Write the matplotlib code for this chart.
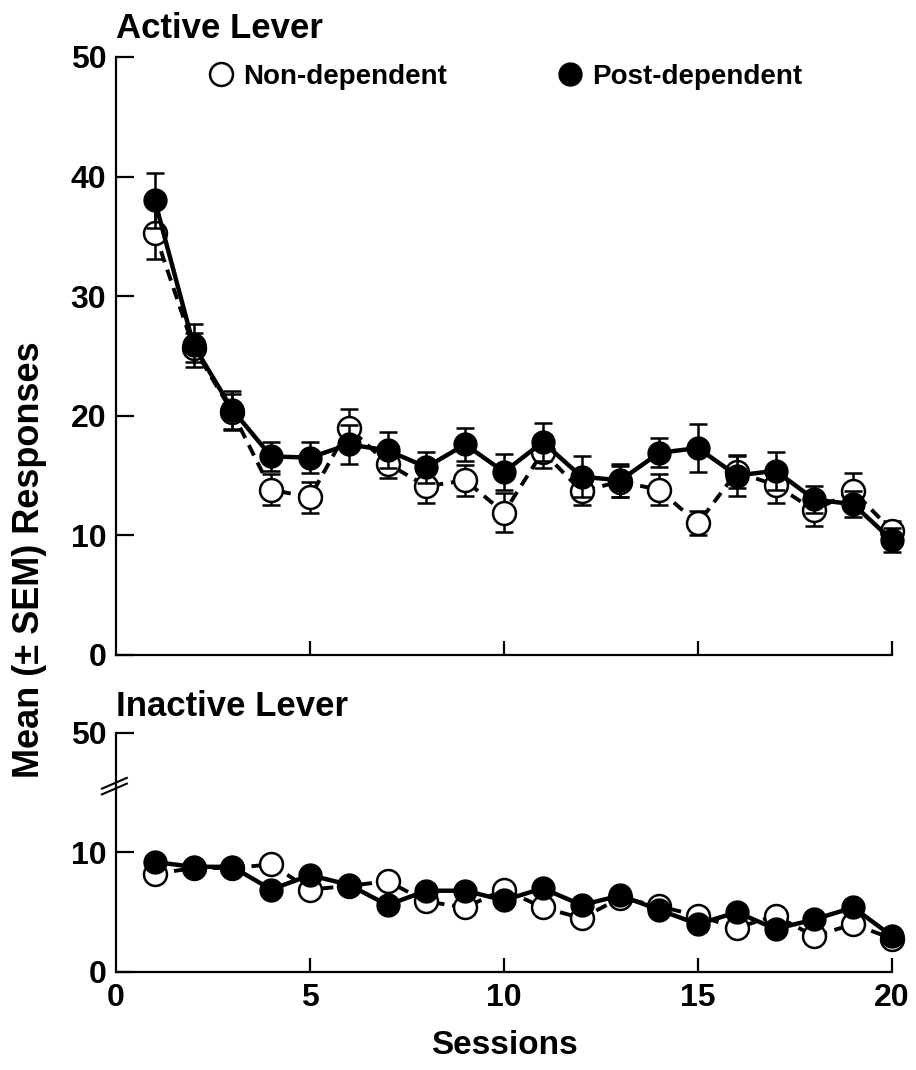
import numpy as np
import matplotlib
matplotlib.use("Agg")
import matplotlib.pyplot as plt
from matplotlib.lines import Line2D

plt.rcParams['font.family'] = ['Liberation Sans', 'DejaVu Sans']
plt.rcParams['font.weight'] = 'bold'

# Data
sessions = np.arange(1, 21)

active_nondep = [35.3, 25.7, 20.3, 13.8, 13.2, 19.0, 16.0, 14.1, 14.6, 11.9,
                 17.0, 13.7, 14.5, 13.8, 11.0, 15.3, 14.2, 12.1, 13.7, 10.4]
active_nondep_sem = [2.2, 1.2, 1.5, 1.3, 1.3, 1.6, 1.2, 1.4, 1.3, 1.6,
                     1.4, 1.2, 1.3, 1.3, 1.0, 1.3, 1.5, 1.3, 1.5, 0.8]
active_postdep = [38.0, 25.9, 20.5, 16.6, 16.5, 17.6, 17.1, 15.7, 17.6, 15.3,
                  17.8, 14.9, 14.6, 16.9, 17.3, 15.0, 15.4, 13.0, 12.6, 9.6]
active_postdep_sem = [2.3, 1.8, 1.6, 1.2, 1.3, 1.6, 1.5, 1.3, 1.4, 1.5,
                      1.6, 1.7, 1.4, 1.2, 2.0, 1.7, 1.6, 1.1, 1.1, 1.0]

inactive_nondep = [8.2, 8.7, 8.7, 9.0, 6.9, 7.2, 7.6, 5.9, 5.4, 6.9,
                   5.4, 4.5, 6.2, 5.5, 4.7, 3.7, 4.7, 3.0, 4.0, 2.8]
inactive_nondep_sem = [0.5, 0.5, 0.5, 0.6, 0.5, 0.5, 0.5, 0.5, 0.4, 0.5,
                       0.4, 0.4, 0.4, 0.4, 0.4, 0.3, 0.4, 0.3, 0.4, 0.3]
inactive_postdep = [9.2, 8.8, 8.8, 6.9, 8.1, 7.3, 5.6, 6.8, 6.8, 6.0,
                    7.0, 5.6, 6.4, 5.2, 4.0, 5.0, 3.6, 4.4, 5.4, 3.0]
inactive_postdep_sem = [0.5, 0.5, 0.5, 0.5, 0.5, 0.5, 0.4, 0.5, 0.5, 0.4,
                        0.5, 0.4, 0.4, 0.4, 0.3, 0.4, 0.3, 0.4, 0.4, 0.3]

x_ticks = [5, 10, 15, 20]
x_ticklabels = ['0', '5', '10', '15', '20']
top_yticks = [0, 10, 20, 30, 40, 50]
bottom_yticks = [0, 10, 20]
bottom_yticklabels = ['0', '10', '50']

MS = 16.5


def style_axis(ax):
    for side in ['top', 'right']:
        ax.spines[side].set_visible(False)
    for side in ['left', 'bottom']:
        ax.spines[side].set_linewidth(1.6)
    ax.tick_params(axis='y', direction='in', length=13, width=1.6, labelsize=23, pad=7)
    ax.tick_params(axis='x', direction='in', length=10, width=1.6, labelsize=23, pad=8)
    ax.set_xlim(0, 20)


def draw_series(ax, nd, nd_sem, pd, pd_sem):
    ax.errorbar(sessions, nd, yerr=nd_sem, fmt='o', color='black', mfc='white',
                mec='black', mew=1.8, ms=MS, ls=(0, (3, 2)), lw=2.8,
                elinewidth=1.8, capsize=6.5, capthick=1.8, clip_on=False,
                zorder=3)
    ax.errorbar(sessions, pd, yerr=pd_sem, fmt='o', color='black', mfc='black',
                mec='black', ms=MS, ls='-', lw=3.2,
                elinewidth=1.8, capsize=6.5, capthick=1.8, clip_on=False,
                zorder=4)


fig = plt.figure(figsize=(9.16, 10.70), dpi=100)
ax1 = fig.add_axes([0.1266, 0.3879, 0.8472, 0.5589])
ax2 = fig.add_axes([0.1266, 0.0916, 0.8472, 0.2234])

# Active lever
style_axis(ax1)
draw_series(ax1, active_nondep, active_nondep_sem, active_postdep, active_postdep_sem)
ax1.set_ylim(0, 50)
ax1.set_yticks(top_yticks)
ax1.set_xticks(x_ticks)
ax1.set_xticklabels([])
ax1.text(0, 1.02, 'Active Lever', transform=ax1.transAxes, fontsize=25,
         fontweight='bold', ha='left', va='bottom')
handles = [
    Line2D([], [], marker='o', ls='none', ms=MS, mfc='white', mec='black', mew=1.8),
    Line2D([], [], marker='o', ls='none', ms=MS, mfc='black', mec='black'),
]
ax1.legend(handles, ['Non-dependent', 'Post-dependent'], loc='center left',
           bbox_to_anchor=(0.100, 0.967), ncol=2, frameon=False, fontsize=20,
           borderpad=0, handlelength=1.0, handletextpad=0.3, columnspacing=3.9)

# Inactive lever (broken axis: "50" sits above the break)
style_axis(ax2)
draw_series(ax2, inactive_nondep, inactive_nondep_sem, inactive_postdep, inactive_postdep_sem)
ax2.set_ylim(0, 20)
ax2.set_yticks(bottom_yticks)
ax2.set_yticklabels(bottom_yticklabels)
ax2.set_xticks([0] + x_ticks)
ax2.set_xticklabels(x_ticklabels)
ax2.xaxis.get_major_ticks()[0].tick1line.set_visible(False)
ax2.set_xlabel('Sessions', fontsize=24, fontweight='bold', labelpad=12)
ax2.text(0, 1.04, 'Inactive Lever', transform=ax2.transAxes, fontsize=25,
         fontweight='bold', ha='left', va='bottom')

# break marks on the y axis
for off in [-0.012, 0.012]:
    ax2.plot([-0.018, 0.014], [0.755 + off, 0.80 + off], transform=ax2.transAxes,
             color='black', lw=1.5, clip_on=False)

fig.text(0.032, 0.477, 'Mean (\u00b1 SEM) Responses', rotation=90, fontsize=26,
         fontweight='bold', ha='center', va='center')

fig.savefig('out.png', dpi=100)
